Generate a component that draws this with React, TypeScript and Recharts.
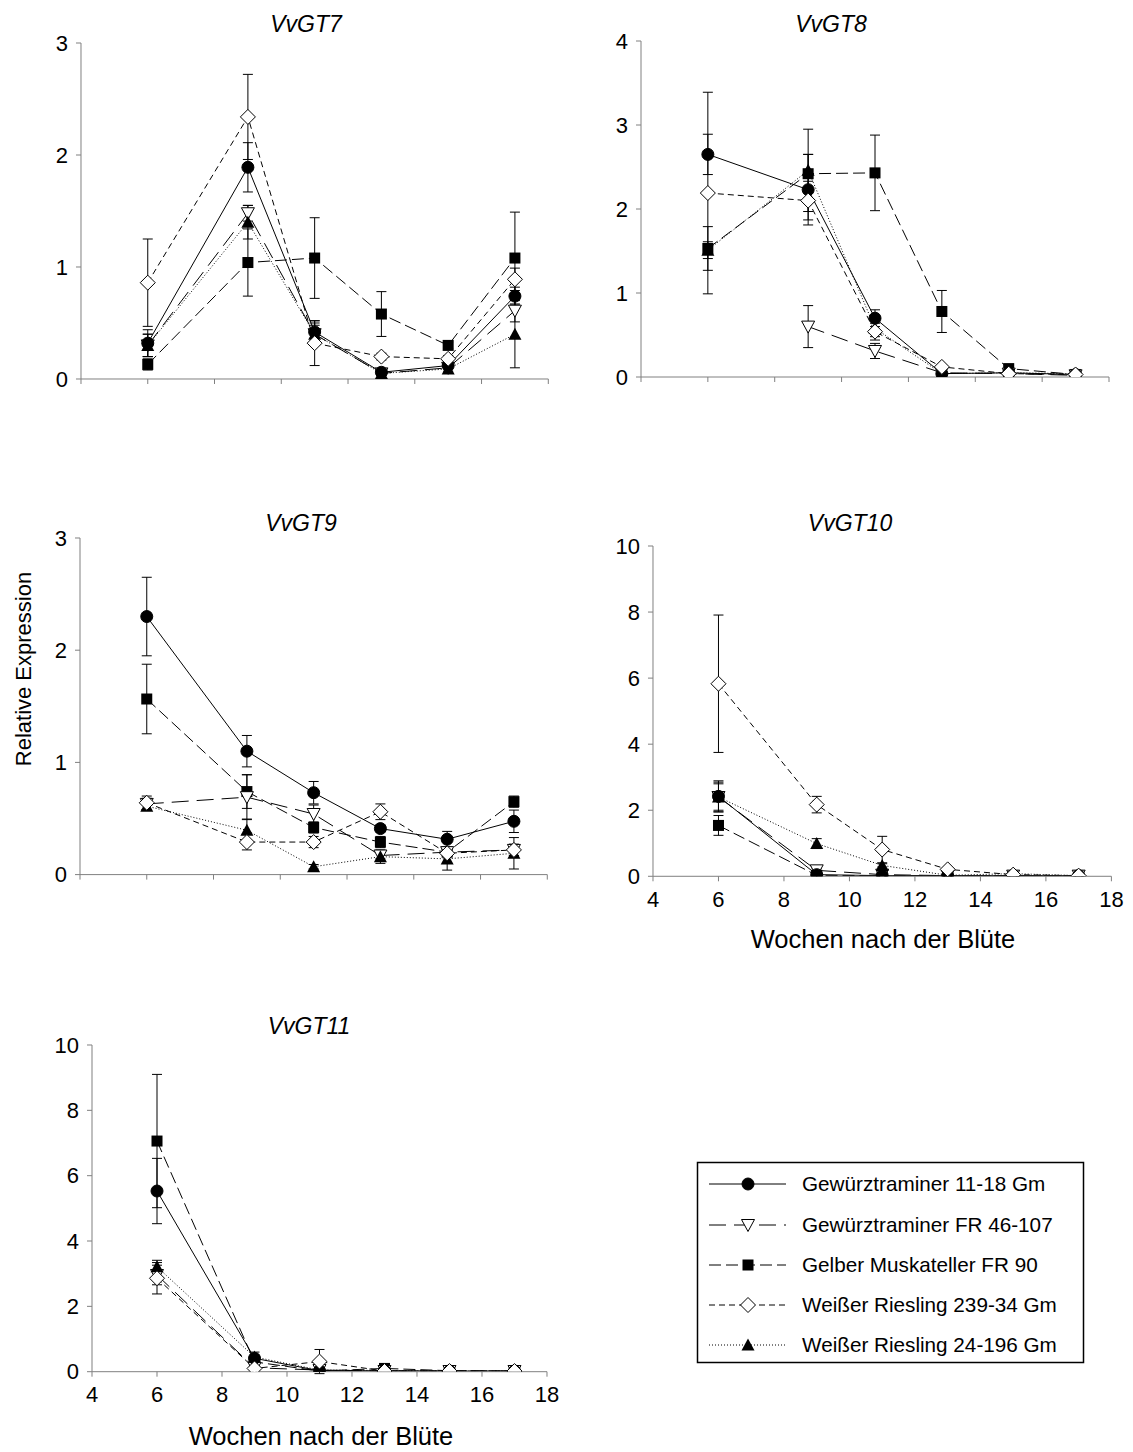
import React from 'react';
import { LineChart, Line, XAxis, YAxis, ErrorBar } from 'recharts';

const weeks = [6, 9, 11, 13, 15, 17];
const xTicks = [4, 6, 8, 10, 12, 14, 16, 18];

const seriesNames = [
  'Gewürztraminer 11-18 Gm',
  'Gewürztraminer FR 46-107',
  'Gelber Muskateller FR 90',
  'Weißer Riesling 239-34 Gm',
  'Weißer Riesling 24-196 Gm',
];

// Series order: circle, down-triangle, square, diamond, triangle
const gt7Mean = [
  [0.32, 1.89, 0.42, 0.06, 0.12, 0.74],
  [0.3, 1.48, 0.4, 0.05, 0.1, 0.61],
  [0.13, 1.04, 1.08, 0.58, 0.3, 1.08],
  [0.86, 2.34, 0.32, 0.2, 0.18, 0.89],
  [0.3, 1.4, 0.4, 0.05, 0.09, 0.4],
];
const gt7Err = [
  [0.12, 0.22, 0.1, 0.02, 0.03, 0.08],
  [0.1, 0.07, 0.08, 0.02, 0.03, 0.1],
  [0.05, 0.3, 0.36, 0.2, 0.03, 0.41],
  [0.39, 0.38, 0.2, 0.03, 0.03, 0.1],
  [0.1, 0.15, 0.1, 0.02, 0.04, 0.3],
];

const gt8Mean = [
  [2.65, 2.23, 0.7, 0.04, 0.05, 0.03],
  [null, 0.6, 0.31, 0.05, 0.04, 0.02],
  [1.53, 2.42, 2.43, 0.78, 0.1, 0.03],
  [2.19, 2.1, 0.54, 0.12, 0.04, 0.03],
  [1.51, 2.46, 0.58, 0.04, 0.05, 0.04],
];
const gt8Err = [
  [0.24, 0.42, 0.1, 0.02, 0.02, 0.02],
  [null, 0.25, 0.09, 0.02, 0.02, 0.01],
  [0.26, 0.23, 0.45, 0.25, 0.03, 0.01],
  [1.2, 0.23, 0.1, 0.02, 0.02, 0.01],
  [0.1, 0.49, 0.1, 0.02, 0.02, 0.01],
];

const gt9Mean = [
  [2.3, 1.1, 0.73, 0.41, 0.315, 0.475],
  [0.63, 0.69, 0.54, 0.17, 0.2, 0.22],
  [1.565, 0.74, 0.42, 0.29, 0.2, 0.65],
  [0.64, 0.29, 0.29, 0.56, 0.19, 0.22],
  [0.61, 0.395, 0.07, 0.16, 0.14, 0.19],
];
const gt9Err = [
  [0.35, 0.14, 0.1, 0.03, 0.07, 0.1],
  [0.05, 0.2, 0.08, 0.03, 0.03, 0.05],
  [0.31, 0.15, 0.05, 0.05, 0.03, 0.05],
  [0.06, 0.07, 0.05, 0.07, 0.03, 0.05],
  [0.03, 0.1, 0.02, 0.06, 0.1, 0.14],
];

const gt10Mean = [
  [2.42, 0.05, 0.02, 0.02, 0.02, 0.02],
  [2.4, 0.18, 0.05, 0.02, 0.02, 0.02],
  [1.54, 0.03, 0.02, 0.02, 0.02, 0.02],
  [5.83, 2.17, 0.81, 0.21, 0.05, 0.02],
  [2.4, 0.99, 0.33, 0.03, 0.08, 0.02],
];
const gt10Err = [
  [0.47, 0.02, 0.01, 0.01, 0.01, 0.01],
  [0.4, 0.05, 0.02, 0.01, 0.01, 0.01],
  [0.3, 0.02, 0.01, 0.01, 0.01, 0.01],
  [2.08, 0.25, 0.4, 0.03, 0.02, 0.01],
  [0.45, 0.15, 0.05, 0.01, 0.02, 0.01],
];

const gt11Mean = [
  [5.53, 0.41, 0.03, 0.03, 0.02, 0.02],
  [2.96, 0.12, 0.05, 0.02, 0.02, 0.02],
  [7.06, 0.3, 0.02, 0.1, 0.03, 0.02],
  [2.86, 0.1, 0.31, 0.02, 0.02, 0.02],
  [3.21, 0.45, 0.05, 0.04, 0.02, 0.02],
];
const gt11Err = [
  [1.0, 0.1, 0.02, 0.01, 0.01, 0.01],
  [0.3, 0.05, 0.02, 0.01, 0.01, 0.01],
  [2.04, 0.1, 0.01, 0.03, 0.01, 0.01],
  [0.48, 0.05, 0.37, 0.01, 0.01, 0.01],
  [0.2, 0.15, 0.02, 0.01, 0.01, 0.01],
];

const FONT = '"Liberation Sans", Arial, sans-serif';
const AXIS_COLOR = '#808080';

type MarkerKind = 'circle' | 'downTri' | 'square' | 'diamond' | 'triangle';
const seriesStyles: { marker: MarkerKind; dash?: string }[] = [
  { marker: 'circle' },
  { marker: 'downTri', dash: '17 8' },
  { marker: 'square', dash: '12 5' },
  { marker: 'diamond', dash: '6 4' },
  { marker: 'triangle', dash: '1 2' },
];

function drawMarker(kind: MarkerKind, cx: number, cy: number, key?: any) {
  switch (kind) {
    case 'circle':
      return <circle key={key} cx={cx} cy={cy} r={6} fill="#000" stroke="#000" />;
    case 'square':
      return <rect key={key} x={cx - 5.5} y={cy - 5.5} width={11} height={11} fill="#000" />;
    case 'diamond':
      return (
        <path key={key} d={`M${cx},${cy - 7.5}L${cx + 7.5},${cy}L${cx},${cy + 7.5}L${cx - 7.5},${cy}Z`} fill="#fff" stroke="#000" strokeWidth={1} />
      );
    case 'downTri':
      return (
        <path key={key} d={`M${cx - 6.5},${cy - 5.5}L${cx + 6.5},${cy - 5.5}L${cx},${cy + 6.5}Z`} fill="#fff" stroke="#000" strokeWidth={1} />
      );
    case 'triangle':
      return <path key={key} d={`M${cx - 6.5},${cy + 5.5}L${cx + 6.5},${cy + 5.5}L${cx},${cy - 6.5}Z`} fill="#000" />;
  }
}

const makeDot = (kind: MarkerKind) => (props: any) => {
  const { cx, cy, index } = props;
  if (cx == null || cy == null || isNaN(cx) || isNaN(cy)) return <g key={`e${index}`} />;
  return drawMarker(kind, cx, cy, `d${index}`);
};

const EmptyTick = () => <g />;

type Panel = {
  title: string;
  means: (number | null)[][];
  errs: (number | null)[][];
  yMax: number;
  yTicks: number[];
  plot: { l: number; t: number; r: number; b: number };
  xLabels: boolean;
  titleX: number;
  titleY: number;
};

const panels: Panel[] = [
  { title: 'VvGT7', means: gt7Mean, errs: gt7Err, yMax: 3, yTicks: [0, 1, 2, 3], plot: { l: 81, t: 42.7, r: 548.3, b: 378.7 }, xLabels: false, titleX: 306, titleY: 32 },
  { title: 'VvGT8', means: gt8Mean, errs: gt8Err, yMax: 4, yTicks: [0, 1, 2, 3, 4], plot: { l: 641, t: 41, r: 1109, b: 377 }, xLabels: false, titleX: 831, titleY: 32 },
  { title: 'VvGT9', means: gt9Mean, errs: gt9Err, yMax: 3, yTicks: [0, 1, 2, 3], plot: { l: 80, t: 537.7, r: 547.3, b: 874.3 }, xLabels: false, titleX: 301, titleY: 531 },
  { title: 'VvGT10', means: gt10Mean, errs: gt10Err, yMax: 10, yTicks: [0, 2, 4, 6, 8, 10], plot: { l: 653.3, t: 545.7, r: 1111.7, b: 876 }, xLabels: true, titleX: 850, titleY: 531 },
  { title: 'VvGT11', means: gt11Mean, errs: gt11Err, yMax: 10, yTicks: [0, 2, 4, 6, 8, 10], plot: { l: 91.7, t: 1045, r: 546.7, b: 1371.7 }, xLabels: true, titleX: 309, titleY: 1034 },
];

const YW = 70;
const MR = 12;
const MT = 12;
const XH = 80;

function GenePanel({ p }: { p: Panel }) {
  const { l, t, r, b } = p.plot;
  const width = r - l + YW + MR;
  const height = b - t + MT + XH;
  const drawOrder = [2, 1, 0, 4, 3];
  return (
    <div style={{ position: 'absolute', left: l - YW, top: t - MT, width, height }}>
      <LineChart width={width} height={height} margin={{ top: MT, right: MR, left: 0, bottom: 0 }}>
        <XAxis
          type="number"
          dataKey="week"
          domain={[4, 18]}
          ticks={xTicks}
          allowDataOverflow
          height={XH}
          stroke={AXIS_COLOR}
          tickSize={5}
          tickMargin={10}
          tick={p.xLabels ? { fill: '#000', fontSize: 22, fontFamily: FONT } : EmptyTick}
          tickLine={{ stroke: AXIS_COLOR }}
          interval={0}
        />
        <YAxis
          type="number"
          domain={[0, p.yMax]}
          ticks={p.yTicks}
          allowDataOverflow
          width={YW}
          stroke={AXIS_COLOR}
          tickSize={5}
          tickMargin={8}
          tick={{ fill: '#000', fontSize: 22, fontFamily: FONT }}
          tickLine={{ stroke: AXIS_COLOR }}
          interval={0}
        />
        {drawOrder.map((si) => {
          const style = seriesStyles[si];
          const rows = weeks
            .map((w, i) => ({ week: w, value: p.means[si][i], err: p.errs[si][i] }))
            .filter((row) => row.value != null);
          return (
            <Line
              key={si}
              data={rows}
              dataKey="value"
              name={seriesNames[si]}
              stroke="#000"
              strokeWidth={1}
              strokeDasharray={style.dash}
              dot={makeDot(style.marker)}
              activeDot={false}
              isAnimationActive={false}
              type="linear"
            >
              <ErrorBar dataKey="err" direction="y" width={5} stroke="#000" strokeWidth={1} />
            </Line>
          );
        })}
      </LineChart>
    </div>
  );
}

function Legend() {
  const rowsY = [1184, 1225, 1265, 1305, 1345];
  return (
    <svg style={{ position: 'absolute', left: 0, top: 0 }} width={1133} height={1452} pointerEvents="none">
      <rect x={697.5} y={1162.5} width={386} height={200} fill="#fff" stroke="#000" strokeWidth={1.5} />
      {seriesNames.map((name, i) => {
        const y = rowsY[i];
        const st = seriesStyles[i];
        return (
          <g key={name}>
            <line x1={709} y1={y} x2={786} y2={y} stroke="#000" strokeWidth={1} strokeDasharray={st.dash} />
            {drawMarker(st.marker, 748, y)}
            <text x={802} y={y} dy="0.35em" fontFamily={FONT} fontSize={20.7} fill="#000">
              {name}
            </text>
          </g>
        );
      })}
    </svg>
  );
}

export default function App() {
  return (
    <div style={{ position: 'absolute', left: 0, top: 0, width: 1133, height: 1452, background: '#fff', fontFamily: FONT }}>
      {panels.map((p) => (
        <GenePanel key={p.title} p={p} />
      ))}
      <svg style={{ position: 'absolute', left: 0, top: 0 }} width={1133} height={1452} pointerEvents="none">
        {panels.map((p) => (
          <text key={p.title} x={p.titleX} y={p.titleY} textAnchor="middle" fontFamily={FONT} fontStyle="italic" fontSize={23} fill="#000">
            {p.title}
          </text>
        ))}
        <text x={0} y={0} transform="translate(31,669) rotate(-90)" textAnchor="middle" fontFamily={FONT} fontSize={22} fill="#000">
          Relative Expression
        </text>
        <text x={883} y={948} textAnchor="middle" fontFamily={FONT} fontSize={25.5} fill="#000">
          Wochen nach der Blüte
        </text>
        <text x={321} y={1445} textAnchor="middle" fontFamily={FONT} fontSize={25.5} fill="#000">
          Wochen nach der Blüte
        </text>
      </svg>
      <Legend />
    </div>
  );
}
